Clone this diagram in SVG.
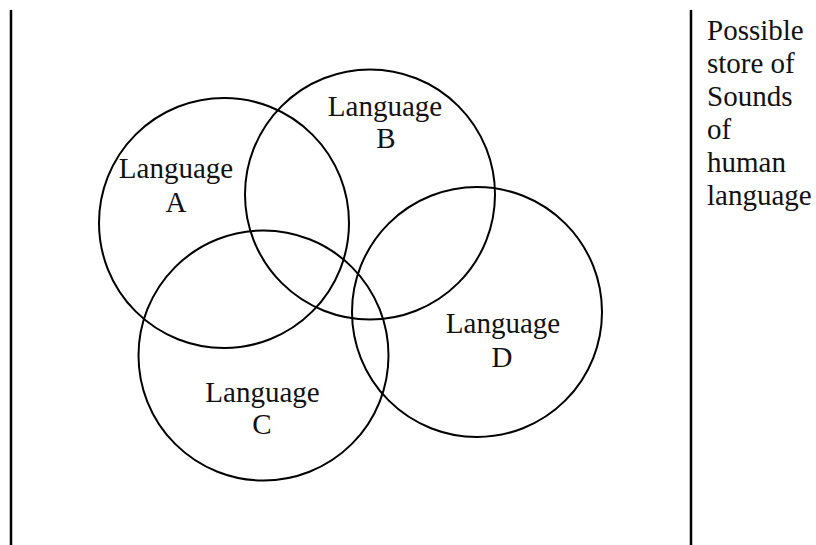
<svg xmlns="http://www.w3.org/2000/svg" width="816" height="545" viewBox="0 0 816 545">
<style>
.c{fill:none;stroke:#000;stroke-width:2}
.t{font-family:"Liberation Serif","Times New Roman",serif;font-size:29px;fill:#111}
.m{text-anchor:middle}
.b{stroke:#000;stroke-width:2.5}
</style>
<rect width="816" height="545" fill="#fff"/>
<g id="frame">
<line class="b" x1="11" y1="10" x2="11" y2="545"/>
<line class="b" x1="691" y1="10" x2="691" y2="545"/>
</g>
<g id="langA"><circle class="c" cx="224" cy="223" r="125"/><text class="t m" x="176" y="178">Language</text><text class="t m" x="176" y="212">A</text></g>
<g id="langB"><circle class="c" cx="370" cy="194.5" r="125"/><text class="t m" x="385" y="116">Language</text><text class="t m" x="386" y="148">B</text></g>
<g id="langC"><circle class="c" cx="263.5" cy="355.5" r="125"/><text class="t m" x="262.5" y="402">Language</text><text class="t m" x="262" y="434">C</text></g>
<g id="langD"><circle class="c" cx="477" cy="312" r="125"/><text class="t m" x="503" y="333">Language</text><text class="t m" x="502" y="367">D</text></g>
<g id="note">
<text class="t" x="707" y="40">Possible</text>
<text class="t" x="707" y="73">store of</text>
<text class="t" x="707" y="106">Sounds</text>
<text class="t" x="707" y="139">of</text>
<text class="t" x="707" y="172">human</text>
<text class="t" x="707" y="205">language</text>
</g>
</svg>
